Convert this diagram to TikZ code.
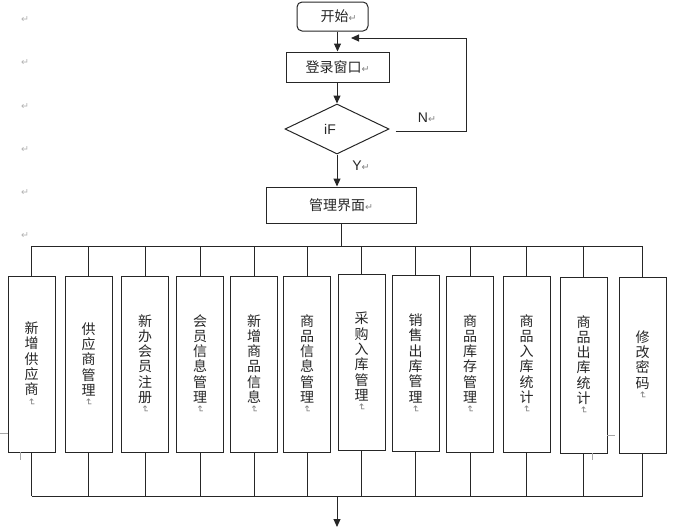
\documentclass[tikz,border=0pt]{standalone}
\usepackage{fontspec}
\usepackage{graphicx}
\setmainfont{Noto Sans CJK SC}
\newfontfamily\symf{DejaVu Sans}
\newfontfamily\latf{Liberation Sans}
\usetikzlibrary{shapes.geometric,arrows.meta}
\newcommand\parmark{{\symf\color{black!50}\fontsize{9.5}{9.5}\selectfont ↵}}
\newcommand\vparmark{\rotatebox{-90}{\parmark}}
\newcommand\marginmark{{\symf\color{black!30}\fontsize{9.5}{9.5}\selectfont ↵}}
\tikzset{
  box/.style={draw=black!85, line width=1pt, inner sep=0pt, text=black!85,
    font=\fontsize{14}{16}\selectfont},
  rbox/.style={box, rounded corners=5pt},
  dbox/.style={box, diamond},
  vbox/.style={box, minimum width=47, minimum height=176, align=center,
    font=\fontsize{14}{15.3}\selectfont},
  conn/.style={draw=black!85, line width=1pt},
  arr/.style={conn, -{Triangle[length=8pt,width=7pt]}},
  lbl/.style={text=black!85, inner sep=0pt, font=\latf\fontsize{14}{16}\selectfont},
  mm/.style={inner sep=0pt},
  stray/.style={draw=black!35, line width=0.8pt}
}
\begin{document}
\begin{tikzpicture}[x=1pt,y=-1pt]
\useasboundingbox (0,0) rectangle (693,528);

% margin paragraph marks
\foreach \yy [count=\i] in {20,63,107,150,193,236}
  \node[mm] (m\i) at (25,\yy) {\marginmark};

% top part
\node[rbox, minimum width=71, minimum height=29] (start) at (332.5,16.5) {\hspace*{12pt}开始\parmark};
\node[box, minimum width=103, minimum height=30] (login) at (337.5,67) {登录窗口\parmark};
\node[dbox, minimum width=104, minimum height=50] (dec) at (337,129) {{\latf iF}\hspace*{14pt}};
\node[box, minimum width=150, minimum height=36] (mgr) at (341,205) {管理界面\parmark};

\node[lbl] (ylab) at (361,166) {Y\parmark};
\node[lbl] (nlab) at (427,118) {N\parmark};

\draw[arr] (login.north |- start.south) -- (login.north);
\draw[arr] (dec.north |- login.south) -- (dec.north);
\draw[arr] (dec.south) -- (dec.south |- mgr.north);

\coordinate (fb) at (466,38);
\coordinate (fbend) at (351,38);
\draw[arr] ([shift={(6,2)}]dec.east) -| (fb) -- (fbend);

% modules
\coordinate (bt) at (340,246);
\coordinate (bb) at (337,496);
\coordinate (out) at (337,527);

\node[vbox] (b1) at (31.5,364) {新\\增\\供\\应\\商\\[-12pt]\vparmark};
\node[vbox] (b2) at (88.5,364.5) {供\\应\\商\\管\\理\\[-12pt]\vparmark};
\node[vbox] (b3) at (145,364) {新\\办\\会\\员\\注\\册\\[-12pt]\vparmark};
\node[vbox] (b4) at (200,364) {会\\员\\信\\息\\管\\理\\[-12pt]\vparmark};
\node[vbox] (b5) at (254,364) {新\\增\\商\\品\\信\\息\\[-12pt]\vparmark};
\node[vbox] (b6) at (307,364) {商\\品\\信\\息\\管\\理\\[-12pt]\vparmark};
\node[vbox] (b7) at (361.5,362) {采\\购\\入\\库\\管\\理\\[-12pt]\vparmark};
\node[vbox] (b8) at (415.5,363.5) {销\\售\\出\\库\\管\\理\\[-12pt]\vparmark};
\node[vbox] (b9) at (470,364) {商\\品\\库\\存\\管\\理\\[-12pt]\vparmark};
\node[vbox] (b10) at (526.5,364) {商\\品\\入\\库\\统\\计\\[-12pt]\vparmark};
\node[vbox] (b11) at (583.5,365) {商\\品\\出\\库\\统\\计\\[-12pt]\vparmark};
\node[vbox] (b12) at (642.5,365) {修\\改\\密\\码\\[-12pt]\vparmark};

\draw[conn] (mgr.south) -- (mgr.south |- bt);
\draw[conn] (b1.north |- bt) -- (b12.north |- bt);
\draw[conn] (b1.south |- bb) -- (b12.south |- bb);
\foreach \i in {1,...,12} {
  \draw[conn] (b\i.north |- bt) -- (b\i.north);
  \draw[conn] (b\i.south) -- (b\i.south |- bb);
}
\draw[arr] (bb) -- (out);

% faint frame artefacts
\coordinate (s1) at (0,433);   \coordinate (s2) at (8,433);
\coordinate (s3) at (20,452);  \coordinate (s4) at (20,460);
\coordinate (s5) at (607,435); \coordinate (s6) at (615,435);
\coordinate (s7) at (592,453); \coordinate (s8) at (592,460);
\draw[stray] (s1) -- (s2);
\draw[stray] (s3) -- (s4);
\draw[stray] (s5) -- (s6);
\draw[stray] (s7) -- (s8);
\end{tikzpicture}
\end{document}
